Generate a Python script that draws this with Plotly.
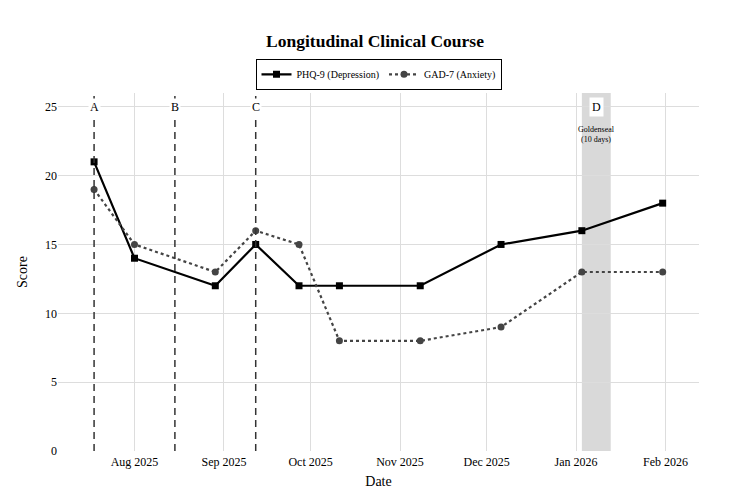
import plotly.graph_objects as go

dates = ["2025-07-18", "2025-08-01", "2025-08-29", "2025-09-12", "2025-09-27",
         "2025-10-11", "2025-11-08", "2025-12-06", "2026-01-03", "2026-01-31"]
phq9 = [21, 14, 12, 15, 12, 12, 12, 15, 16, 18]
gad7 = [19, 15, 13, 16, 15, 8, 8, 9, 13, 13]

event_labels = ["A", "B", "C"]
event_dates = ["2025-07-18", "2025-08-15", "2025-09-12"]

shade_start = "2026-01-03"
shade_end = "2026-01-13"
shade_label = "D"
shade_note = "Goldenseal<br>(10 days)"

x_range = ["2025-07-05 12:00", "2026-02-12 14:00"]
y_range = [0, 26]

FONT = "Liberation Serif, Times New Roman, serif"

fig = go.Figure()

fig.add_trace(go.Scatter(
    x=dates, y=phq9, mode="lines+markers", name="PHQ-9 (Depression)",
    line=dict(color="black", width=2.2),
    marker=dict(symbol="square", size=7, color="black"),
))
fig.add_trace(go.Scatter(
    x=dates, y=gad7, mode="lines+markers", name="GAD-7 (Anxiety)",
    line=dict(color="#444444", width=2.2, dash="dot"),
    marker=dict(symbol="circle", size=7, color="#444444"),
))

# shaded period
fig.add_shape(type="rect", xref="x", yref="paper", x0=shade_start, x1=shade_end,
              y0=0, y1=1, fillcolor="#d9d9d9", line=dict(width=0), layer="below")

for lab, d in zip(event_labels, event_dates):
    fig.add_shape(type="line", xref="x", yref="paper", x0=d, x1=d, y0=0, y1=1,
                  line=dict(color="#333333", width=1.5, dash="7px,5px"))
    fig.add_annotation(x=d, y=25, xref="x", yref="y", text=lab, showarrow=False,
                       font=dict(family=FONT, size=12, color="black"),
                       bgcolor="white", borderpad=1)

fig.add_annotation(x="2026-01-08", y=25, xref="x", yref="y", text=shade_label,
                   showarrow=False, font=dict(family=FONT, size=12, color="black"),
                   bgcolor="white", borderpad=2)
fig.add_annotation(x="2026-01-08", y=23.0, xref="x", yref="y", text=shade_note,
                   showarrow=False, font=dict(family=FONT, size=8, color="black"))

fig.update_layout(
    width=750, height=499,
    margin=dict(l=58, r=51, t=93, b=48),
    paper_bgcolor="white", plot_bgcolor="white",
    font=dict(family=FONT, size=12, color="black"),
    title=dict(text="<b>Longitudinal Clinical Course</b>", x=0.5, xanchor="center",
               y=0.918, yanchor="middle", font=dict(family=FONT, size=17.5, color="black")),
    legend=dict(orientation="h", x=0.5, xanchor="center", y=1.009, yanchor="bottom",
                bordercolor="black", borderwidth=1, bgcolor="white",
                font=dict(family=FONT, size=10, color="black"),
                itemwidth=30, tracegroupgap=0),
    showlegend=True,
)
fig.update_xaxes(range=x_range, type="date", dtick="M1", tickformat="%b %Y",
                 showgrid=True, gridcolor="#dddddd", gridwidth=1, zeroline=False,
                 showline=False, ticks="", ticklabelstandoff=2, automargin=False,
                 title=dict(text="Date", font=dict(size=14), standoff=8),
                 tickfont=dict(size=12))
fig.update_yaxes(range=y_range, dtick=5, showgrid=True, gridcolor="#dddddd", gridwidth=1,
                 zeroline=False, showline=False, ticks="", automargin=False,
                 title=dict(text="Score", font=dict(size=14), standoff=14),
                 tickfont=dict(size=12))

fig.write_html("out.html")
